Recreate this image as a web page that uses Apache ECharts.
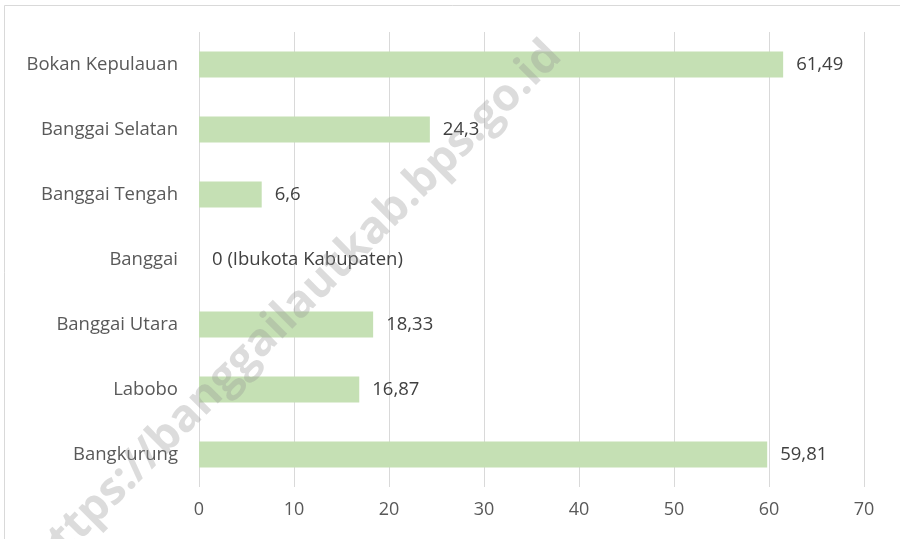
<!DOCTYPE html>
<html>
<head>
<meta charset="utf-8">
<script src="https://cdn.jsdelivr.net/npm/echarts@6/dist/echarts.min.js"></script>
<style>
  html, body { margin: 0; padding: 0; background: #fff; }
  #chart { width: 900px; height: 539px; }
</style>
</head>
<body>
<div id="chart"></div>
<script>
  // data, top to bottom as shown
  let categories = ['Bokan Kepulauan', 'Banggai Selatan', 'Banggai Tengah', 'Banggai', 'Banggai Utara', 'Labobo', 'Bangkurung'];
  let values = [61.49, 24.3, 6.6, 0, 18.33, 16.87, 59.81];
  let valueLabels = ['61,49', '24,3', '6,6', '0 (Ibukota Kabupaten)', '18,33', '16,87', '59,81'];
  let xTicks = [0, 10, 20, 30, 40, 50, 60, 70];
  let watermark = 'https://banggailautkab.bps.go.id';

  let font = '"Open Sans", Lato, sans-serif';
  let chart = echarts.init(document.getElementById('chart'));

  let option = {
    backgroundColor: '#fff',
    animation: false,
    grid: {
      left: 199,
      right: 36,
      top: 32,
      bottom: 52
    },
    xAxis: {
      type: 'value',
      min: xTicks[0],
      max: xTicks[xTicks.length - 1],
      interval: 10,
      axisLine: {show: false},
      axisTick: {show: false},
      axisLabel: {
        color: '#595959',
        fontSize: 18,
        fontFamily: font,
        margin: 14
      },
      splitLine: {
        lineStyle: {color: '#d9d9d9', width: 1}
      }
    },
    yAxis: {
      type: 'category',
      inverse: true,
      data: categories,
      axisLine: {show: false},
      axisTick: {show: false},
      axisLabel: {
        color: '#595959',
        fontSize: 18.5,
        fontFamily: font,
        margin: 21
      }
    },
    series: [
      {
        type: 'bar',
        data: values,
        barWidth: 26,
        itemStyle: {color: '#c5e0b4'},
        label: {
          show: true,
          position: 'right',
          distance: 13,
          color: '#404040',
          fontSize: 18.5,
          fontFamily: font,
          formatter: p => valueLabels[p.dataIndex]
        }
      }
    ],
    graphic: [
      {
        type: 'rect',
        shape: {x: 4.5, y: 5.5, width: 920, height: 560},
        style: {fill: null, stroke: '#d9d9d9', lineWidth: 1},
        silent: true
      },
      {
        type: 'text',
        x: 295,
        y: 308,
        rotation: Math.PI / 4,
        z: 100,
        style: {
          text: watermark,
          font: 'bold 45px ' + font,
          fill: 'rgba(150,150,150,0.33)',
          align: 'center',
          verticalAlign: 'middle'
        },
        silent: true
      }
    ]
  };

  chart.setOption(option);
</script>
</body>
</html>
